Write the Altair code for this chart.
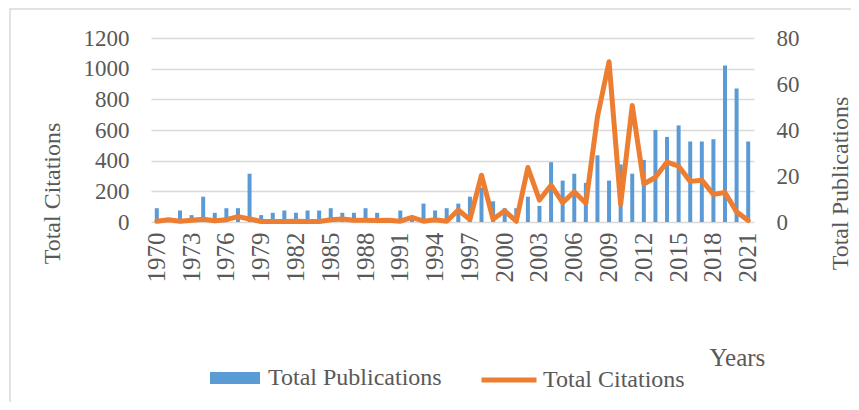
import altair as alt
import pandas as pd

years = list(range(1970, 2022))
publications = [6, 1, 5, 3, 11, 4, 6, 6, 21, 3, 4, 5, 4, 5, 5, 6, 4, 4, 6, 4,
                0, 5, 1, 8, 5, 6, 8, 11, 15, 9, 6, 6, 11, 7, 26, 18, 21, 17, 29, 18,
                25, 21, 27, 40, 37, 42, 35, 35, 36, 68, 58, 35]
citations = [5, 15, 5, 12, 18, 8, 15, 35, 20, 3, 3, 3, 5, 3, 3, 15, 20, 12, 12, 10,
             12, 5, 30, 5, 15, 5, 78, 15, 305, 18, 73, 5, 355, 143, 240, 126, 197, 122, 686, 1045,
             115, 760, 248, 292, 391, 364, 265, 273, 180, 192, 66, 10]
label_years = list(range(1970, 2022, 3))
left_ticks = [0, 200, 400, 600, 800, 1000, 1200]
right_ticks = [0, 20, 40, 60, 80]
series_names = ["Total Publications", "Total Citations"]

FONT = "Liberation Serif"
TXT = "#595959"

df = pd.DataFrame({"Year": years, "Publications": publications, "Citations": citations})
df["pub_series"] = series_names[0]
df["cit_series"] = series_names[1]

x_enc = alt.X(
    "Year:O",
    scale=alt.Scale(paddingInner=0, paddingOuter=0),
    axis=alt.Axis(
        values=label_years, labelAngle=-90, labelAlign="right", labelBaseline="middle",
        labelPadding=10, labelFont=FONT, labelFontSize=25, labelColor=TXT,
        domain=False, ticks=False, grid=False,
        title="Years", titleFont=FONT, titleFontSize=25, titleFontWeight="normal",
        titleColor=TXT, titleAngle=0, titleAlign="left", titleBaseline="middle",
        titleX=558, titleY=135,
    ),
)

bars = alt.Chart(df).mark_bar(size=4, color="#5B9BD5").encode(
    x=x_enc,
    y=alt.Y(
        "Publications:Q",
        scale=alt.Scale(domain=[0, 80], nice=False),
        axis=alt.Axis(
            orient="right", values=right_ticks, format="d", grid=False, domain=False, ticks=False,
            labelPadding=22, labelFont=FONT, labelFontSize=23, labelColor=TXT,
            labelAlign="left", labelBaseline="middle",
            title="Total Publications", titleFont=FONT, titleFontSize=24,
            titleFontWeight="normal", titleColor=TXT, titleAngle=-90,
            titleAlign="center", titleBaseline="middle", titleX=86, titleY=145,
        ),
    ),
    color=alt.Color(
        "pub_series:N",
        scale=alt.Scale(domain=[series_names[0]], range=["#5B9BD5"]),
        legend=alt.Legend(
            orient="none", legendX=59, legendY=315, title=None, padding=0,
            symbolType="M-1,-0.24H1V0.24H-1Z", symbolSize=2500, symbolStrokeWidth=0,
            labelFont=FONT, labelFontSize=24, labelColor=TXT, labelOffset=8, labelLimit=400,
        ),
    ),
)

line = alt.Chart(df).mark_line(color="#ED7D31", strokeWidth=5, strokeJoin="round", strokeCap="round").encode(
    x=x_enc,
    y=alt.Y(
        "Citations:Q",
        scale=alt.Scale(domain=[0, 1200], nice=False),
        axis=alt.Axis(
            orient="left", values=left_ticks, format="d", grid=True, gridColor="#d9d9d9", gridWidth=1.5,
            domain=False, ticks=False, labelPadding=22, labelFont=FONT, labelFontSize=23,
            labelColor=TXT, labelAlign="right", labelBaseline="middle",
            title="Total Citations", titleFont=FONT, titleFontSize=24,
            titleFontWeight="normal", titleColor=TXT, titleAngle=-90,
            titleAlign="center", titleBaseline="middle", titleX=-99, titleY=155,
        ),
    ),
    stroke=alt.Stroke(
        "cit_series:N",
        scale=alt.Scale(domain=[series_names[1]], range=["#ED7D31"]),
        legend=alt.Legend(
            orient="none", legendX=328, legendY=312, title=None, padding=0,
            symbolType="stroke", symbolSize=3025, symbolStrokeWidth=5,
            labelFont=FONT, labelFontSize=24, labelColor=TXT, labelOffset=4, labelLimit=400,
        ),
    ),
)

border = alt.Chart(pd.DataFrame({"k": [0]})).mark_rect(
    fillOpacity=0, stroke="#d9d9d9", strokeWidth=1.5
).encode(
    x=alt.value(-141), x2=alt.value(760), y=alt.value(-29), y2=alt.value(420)
)

chart = alt.layer(border, bars, line).resolve_scale(
    y="independent", color="independent", stroke="independent"
).properties(
    width=603, height=184,
    autosize=alt.AutoSizeParams(type="none"),
    padding={"left": 143, "top": 30, "right": 97, "bottom": 180},
).configure_view(stroke=None)

chart.save("out.html", embed_options={"renderer": "svg", "actions": False})
